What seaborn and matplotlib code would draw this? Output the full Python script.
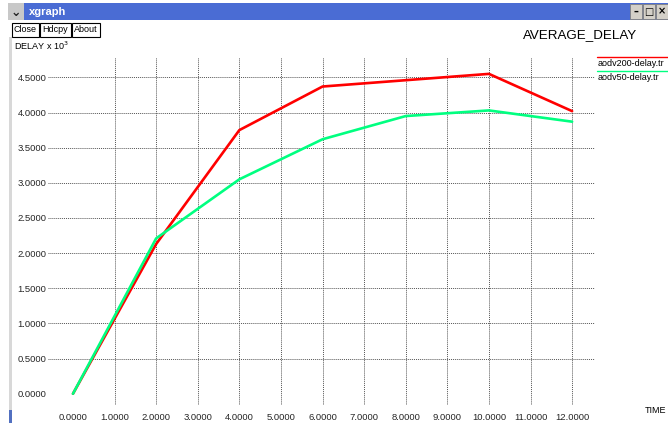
import numpy as np
import pandas as pd
import matplotlib
matplotlib.use('Agg')
import matplotlib.pyplot as plt
import seaborn as sns
from matplotlib.patches import Rectangle

# ── Data ──
time_s = [0, 2, 4, 6, 8, 10, 12]
delay_aodv200 = [0.0, 2.13, 3.75, 4.37, 4.46, 4.55, 4.02]
delay_aodv50 = [0.0, 2.21, 3.05, 3.62, 3.95, 4.03, 3.87]
series_names = ['aodv200-delay.tr', 'aodv50-delay.tr']
series_colors = ['#ff0000', '#00ff80']
x_ticks = np.arange(0, 13, 1)
y_ticks = np.arange(0, 5.0, 0.5)

df = pd.DataFrame({
    'time': time_s * 2,
    'delay': delay_aodv200 + delay_aodv50,
    'file': [series_names[0]] * len(time_s) + [series_names[1]] * len(time_s),
})

sns.set_style('white')
plt.rcParams['font.family'] = ['Liberation Sans', 'DejaVu Sans']

W, H = 668, 423
fig = plt.figure(figsize=(W / 100, H / 100), dpi=100)
fig.patch.set_facecolor('white')


def px(x, y):
    # pixel (from top-left) -> figure fraction
    return x / W, 1 - y / H


# ── Plot area ─────────────────────────
ax = fig.add_axes([48 / W, 1 - 405 / H, 547 / W, 348 / H])
sns.lineplot(data=df, x='time', y='delay', hue='file',
             palette=series_colors, linewidth=1.9,
             legend=False, ax=ax)
ax.set_xlim(-0.6, 12.55)
ax.set_ylim(-0.16, 4.79)
ax.set_xticks(x_ticks)
ax.set_yticks(y_ticks)
ax.set_xticklabels([f'{v:.4f}' for v in x_ticks], fontsize=6.8)
ax.set_yticklabels([f'{v:.4f}' for v in y_ticks], fontsize=6.8)
ax.tick_params(length=0, pad=1)
ax.tick_params(axis='x', pad=6)
ax.set_xlabel('')
ax.set_ylabel('')
for s in ax.spines.values():
    s.set_visible(False)
ax.set_facecolor('none')
ax.grid(True, color='#555555', linestyle=(0, (1, 1)), linewidth=0.7)
ax.set_axisbelow(True)
ax.xaxis.get_gridlines()[0].set_visible(False)
ax.yaxis.get_gridlines()[0].set_visible(False)

# ── Window chrome ─────────────────────
fig.patches.append(Rectangle(px(8, 20), 660 / W, 17 / H,
                             transform=fig.transFigure,
                             facecolor='#4a6cd4', edgecolor='none'))
fig.patches.append(Rectangle(px(8, 20), 16 / W, 17 / H,
                             transform=fig.transFigure,
                             facecolor='#c8c8c8', edgecolor='none'))
fig.text(*px(16, 12), '\u2304', ha='center', va='center',
         fontsize=9, fontweight='bold', color='#222222',
         family=['DejaVu Sans'])
fig.text(*px(29, 12), 'xgraph', ha='left', va='center',
         fontsize=8, fontweight='bold', color='white')
for i, sym in enumerate(['\u2013', '\u25a1', '\u00d7']):
    x0 = 630 + i * 13
    fig.patches.append(Rectangle(px(x0, 19), 12 / W, 15 / H,
                                 transform=fig.transFigure,
                                 facecolor='#d4d0c8', edgecolor='#808080',
                                 linewidth=0.6))
    fig.text(*px(x0 + 6, 11.5), sym, ha='center', va='center',
             fontsize=7, fontweight='bold', color='black',
             family=['DejaVu Sans'])

# left window border
fig.patches.append(Rectangle(px(9, 423), 3 / W, 386 / H,
                             transform=fig.transFigure,
                             facecolor='#d8d8d8', edgecolor='none'))
fig.patches.append(Rectangle(px(9, 423), 3 / W, 13 / H,
                             transform=fig.transFigure,
                             facecolor='#5270c0', edgecolor='none'))

# Close / Hdcpy / About buttons
for label, x0, w in [('Close', 12, 27), ('Hdcpy', 40, 31), ('About', 72, 28)]:
    fig.patches.append(Rectangle(px(x0, 37), w / W, 14 / H,
                                 transform=fig.transFigure,
                                 facecolor='white', edgecolor='black',
                                 linewidth=0.8))
    fig.text(*px(x0 + w / 2, 30), label, ha='center', va='center',
             fontsize=6.5, color='black')

# ── Labels ────────────────────────────
fig.text(*px(14, 46), r'DELAY x 10$^3$', ha='left', va='center',
         fontsize=6.5, color='black')
fig.text(*px(580, 35), 'AVERAGE_DELAY', ha='center', va='center',
         fontsize=9.6, color='black')
fig.text(*px(666, 410), 'TIME', ha='right', va='center',
         fontsize=6.5, color='black')

# ── Legend (xgraph style) ─────────────
for k, (name, col) in enumerate(zip(series_names, series_colors)):
    yl = 57.5 + k * 14
    fig.add_artist(plt.Line2D([597 / W, 1.0], [1 - yl / H] * 2,
                              color=col, linewidth=1.0,
                              transform=fig.transFigure))
    fig.text(*px(598, yl + 6), name, ha='left', va='center',
             fontsize=6.5, color='black')

fig.savefig('out.png', dpi=100, facecolor='white')
